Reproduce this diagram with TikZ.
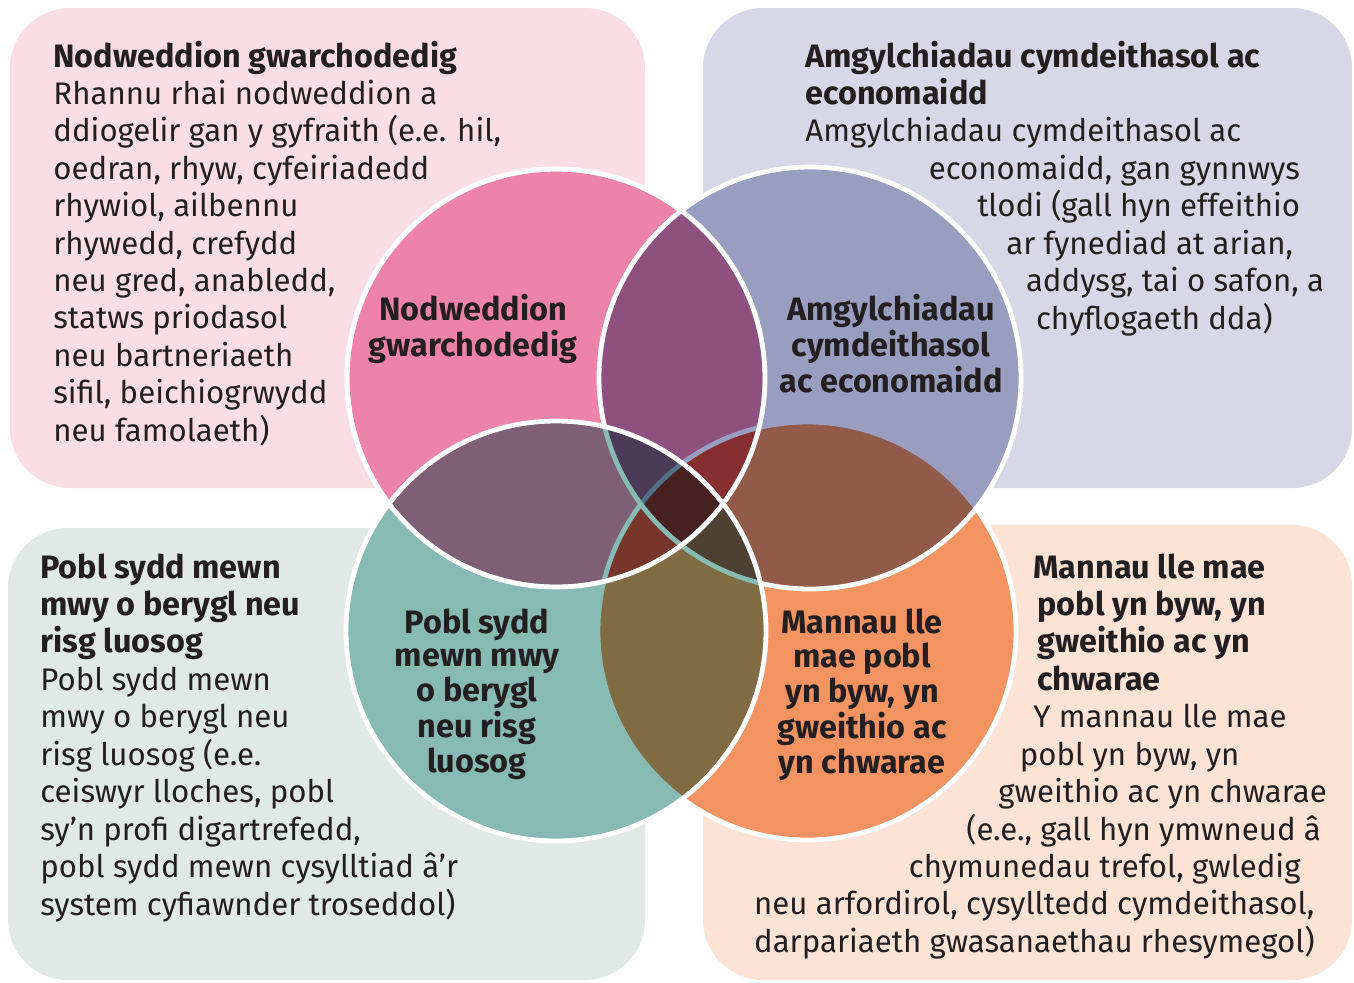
\documentclass[tikz,border=0pt]{standalone}
\usepackage{fontspec}
\setmainfont{Fira Sans}
\usetikzlibrary{positioning}
\definecolor{ink}{HTML}{231F20}
\definecolor{pinkbox}{HTML}{FBDDE6}
\definecolor{lilacbox}{HTML}{D8D7E7}
\definecolor{greybox}{HTML}{E1E9E7}
\definecolor{peachbox}{HTML}{FCE3D5}
\definecolor{pinkc}{HTML}{EE83A9}
\definecolor{lilacc}{HTML}{999DC0}
\definecolor{tealc}{HTML}{87BAB2}
\definecolor{orangec}{HTML}{F29361}
\newcommand{\boxlines}[1]{\begin{tabular}[t]{@{}l@{}}#1\end{tabular}}
\newcommand{\taglines}[1]{\begin{tabular}[t]{@{}c@{}}#1\end{tabular}}
\newcommand{\heading}[1]{{\fontsize{16.2}{18.7}\selectfont\bfseries #1}}

\begin{document}
\begin{tikzpicture}[x=0.5pt,y=-0.5pt,
  box/.style={rounded corners=30pt},
  ring/.style={draw=white,line width=2.4pt},
  blurb/.style={anchor=base west,inner sep=0pt,text=ink,
    font=\fontsize{15.6}{18.7}\selectfont},
  tag/.style={anchor=base,inner sep=0pt,text=ink,
    font=\fontsize{16.2}{16.75}\selectfont\bfseries}]
\useasboundingbox (0,0) rectangle (1354,982);
% boxes in the corners
\fill[pinkbox,box] (10,8) rectangle (645,488);
\fill[lilacbox,box] (703,8) rectangle (1352,488);
\fill[greybox,box] (8,528) rectangle (645,980);
\fill[peachbox,box] (703,525) rectangle (1352,980);
% circle centres
\coordinate (pk) at (556,378);
\coordinate (lc) at (810,378);
\coordinate (tl) at (556,631);
\coordinate (og) at (807,631);
% white under the circles, then the colours multiply
\fill[white] (pk) circle (209) (lc) circle (211) (tl) circle (210) (og) circle (209);
\fill[pinkc,blend mode=multiply] (pk) circle (209);
\draw[ring] (pk) circle (209);
\fill[orangec,blend mode=multiply] (og) circle (209);
\draw[ring] (og) circle (209);
\fill[lilacc,blend mode=multiply] (lc) circle (211);
\draw[ring] (lc) circle (211);
\fill[tealc,blend mode=multiply] (tl) circle (210);
\draw[ring] (tl) circle (210);
\draw[ring] (pk) circle (209);
% circle labels
\node[tag] (pklabel) at (473,320) {\taglines{Nodweddion\\gwarchodedig}};
\node[tag] (lclabel) at (891,320) {\taglines{Amgylchiadau\\cymdeithasol\\ac economaidd}};
\node[tag] (tllabel) at (477,633) {\taglines{Pobl sydd\\mewn mwy\\o berygl\\neu risg\\luosog}};
\node[tag] (oglabel) at (862,633) {\taglines{Mannau lle\\mae pobl\\yn byw, yn\\gweithio ac\\yn chwarae}};
% box texts
\node[blurb] (pktext) at (53,67) {\boxlines{\heading{Nodweddion gwarchodedig}\\
  Rhannu rhai nodweddion a\\
  ddiogelir gan y gyfraith (e.e. hil,\\
  oedran, rhyw, cyfeiriadedd\\
  rhywiol, ailbennu\\
  rhywedd, crefydd\\
  neu gred, anabledd,\\
  statws priodasol\\
  neu bartneriaeth\\
  sifil, beichiogrwydd\\
  neu famolaeth)}};
\node[blurb] (lctext) at (805,67) {\boxlines{\heading{Amgylchiadau cymdeithasol ac}\\
  \heading{economaidd}\\
  Amgylchiadau cymdeithasol ac\\
  \hspace*{61.75pt}economaidd, gan gynnwys\\
  \hspace*{86pt}tlodi (gall hyn effeithio\\
  \hspace*{100.5pt}ar fynediad at arian,\\
  \hspace*{110.3pt}addysg, tai o safon, a\\
  \hspace*{115.3pt}chyflogaeth dda)}};
\node[blurb] (tltext) at (40,578) {\boxlines{\heading{Pobl sydd mewn}\\
  \heading{mwy o berygl neu}\\
  \heading{risg luosog}\\
  Pobl sydd mewn\\
  mwy o berygl neu\\
  risg luosog (e.e.\\
  ceiswyr lloches, pobl\\
  sy’n profi digartrefedd,\\
  pobl sydd mewn cysylltiad â’r\\
  system cyfiawnder troseddol)}};
\node[blurb] (ogtext) at (753.7,578) {\boxlines{\hspace*{139.65pt}\heading{Mannau lle mae}\\
  \hspace*{141.65pt}\heading{pobl yn byw, yn}\\
  \hspace*{141.65pt}\heading{gweithio ac yn}\\
  \hspace*{141.65pt}\heading{chwarae}\\
  \hspace*{139.65pt}Y mannau lle mae\\
  \hspace*{132.9pt}pobl yn byw, yn\\
  \hspace*{122.15pt}gweithio ac yn chwarae\\
  \hspace*{106.15pt}(e.e., gall hyn ymwneud â\\
  \hspace*{77.4pt}chymunedau trefol, gwledig\\
  neu arfordirol, cysylltedd cymdeithasol,\\
  darpariaeth gwasanaethau rhesymegol)}};
\end{tikzpicture}
\end{document}
